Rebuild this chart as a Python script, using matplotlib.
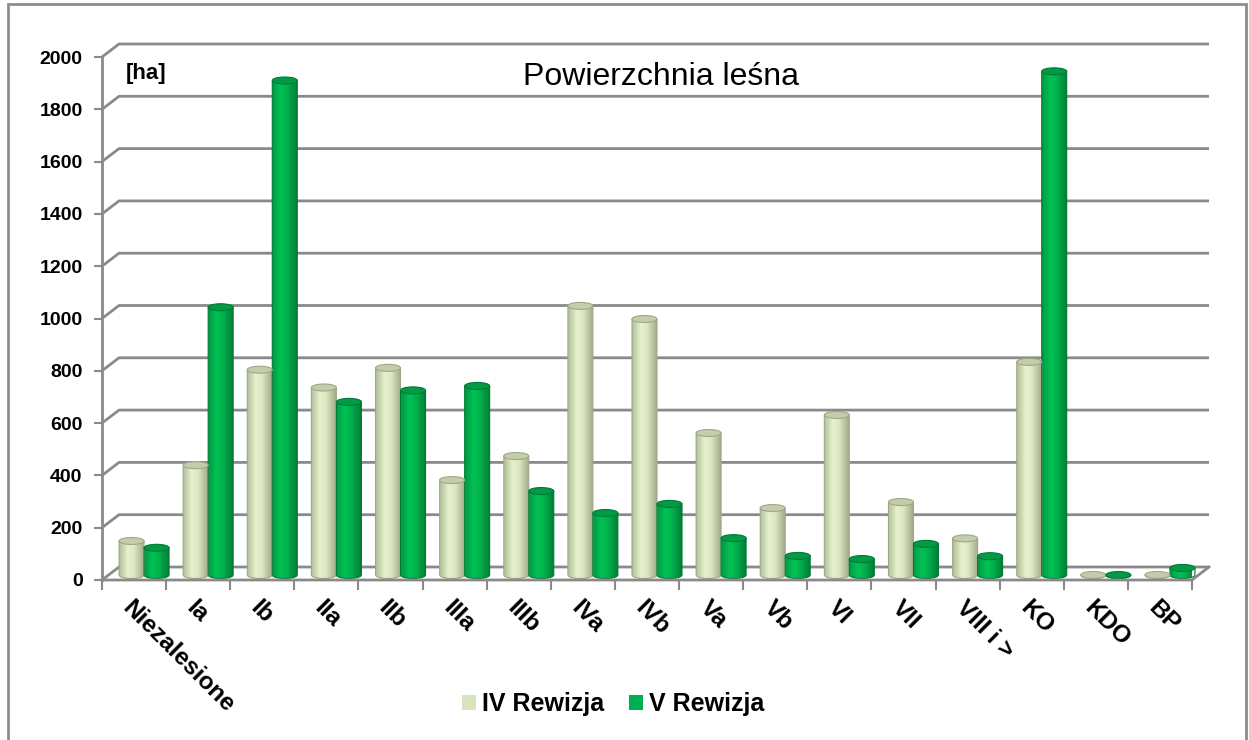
import numpy as np
import matplotlib
matplotlib.use('Agg')
import matplotlib.pyplot as plt
import matplotlib.transforms as mtransforms
from matplotlib.colors import LinearSegmentedColormap
from matplotlib.patches import Ellipse, PathPatch, Patch, Rectangle
from matplotlib.path import Path

plt.rcParams['font.family'] = ['Liberation Sans', 'DejaVu Sans']

# dane [ha]
categories = ['Niezalesione', 'Ia', 'Ib', 'IIa', 'IIb', 'IIIa', 'IIIb', 'IVa', 'IVb',
              'Va', 'Vb', 'VI', 'VII', 'VIII i >', 'KO', 'KDO', 'BP']
rewizja_iv = [130, 420, 785, 717, 792, 363, 455, 1029, 979, 543, 256, 612, 279, 140, 815, 0, 0]
rewizja_v = [104, 1024, 1891, 662, 706, 723, 321, 237, 272, 141, 73, 61, 119, 72, 1926, 0, 27]
series_names = ['IV Rewizja', 'V Rewizja']
y_ticks = np.arange(0, 2001, 200)

W, H = 1249, 740
fig = plt.figure(figsize=(W / 100, H / 100), dpi=100)
ax = fig.add_axes([102 / W, 1 - 580 / H, 1090 / W, 523 / H])
n = len(categories)
ymax = 2000

grid_c = '#8a8a8a'
ppx = 1090 / n        # piksele na kategorie
ppy = 523 / ymax      # piksele na jednostke
depth_dx, depth_dy = 17 / ppx, 13 / ppy

# sciana tylna + linie siatki (efekt 3D)
for v in y_ticks:
    ax.plot([-0.5, -0.5 + depth_dx, n - 0.5 + depth_dx], [v, v + depth_dy, v + depth_dy],
            color=grid_c, lw=2, clip_on=False, zorder=1, solid_capstyle='butt')
# przednia krawedz podlogi
ax.plot([-0.5, n - 0.5, n - 0.5 + depth_dx], [0, 0, depth_dy],
        color=grid_c, lw=2, clip_on=False, zorder=4)
ax.plot([-0.5, -0.5], [0, ymax], color=grid_c, lw=2, clip_on=False, zorder=4)

# walce
bar_trans = ax.transData + mtransforms.ScaledTranslation(10 / 100, 5 / 100, fig.dpi_scale_trans)
w = 25 / ppx
cap_h = 7 / ppy
grad = np.linspace(0, 1, 64).reshape(1, -1)

cmap_iv = LinearSegmentedColormap.from_list('iv', [(0, '#b4be99'), (0.35, '#e6f1cd'),
                                                   (0.6, '#dde9c3'), (1, '#a3ad89')])
cmap_v = LinearSegmentedColormap.from_list('v', [(0, '#009a43'), (0.35, '#00c255'),
                                                 (0.6, '#00b24d'), (1, '#007e37')])
styles = [(cmap_iv, '#c4cdaa', '#9ea889'), (cmap_v, '#009b44', '#007a35')]


def draw_cylinder(xc, val, cmap, cap_face, edge):
    x0, x1 = xc - w / 2, xc + w / 2
    t = np.linspace(np.pi, 2 * np.pi, 30)
    arc = list(zip(xc + w / 2 * np.cos(t), cap_h / 2 * np.sin(t)))
    verts = [(x0, val)] + arc + [(x1, val), (x0, val)]
    codes = [Path.MOVETO] + [Path.LINETO] * (len(verts) - 2) + [Path.CLOSEPOLY]
    body = PathPatch(Path(verts, codes), facecolor='none', edgecolor=edge, lw=0.8,
                     transform=bar_trans, zorder=3, clip_on=False)
    ax.add_patch(body)
    im = ax.imshow(grad, cmap=cmap, aspect='auto', extent=[x0, x1, -cap_h / 2, val],
                   transform=bar_trans, zorder=2.9, interpolation='bilinear')
    im.set_clip_path(body)
    ax.add_patch(Ellipse((xc, val), w, cap_h, facecolor=cap_face, edgecolor=edge, lw=0.8,
                         transform=bar_trans, zorder=3.1, clip_on=False))


for i in range(n):
    for k, vals in enumerate([rewizja_iv, rewizja_v]):
        xc = i - w / 2 + k * w
        draw_cylinder(xc, vals[i], *styles[k])

ax.set_xlim(-0.5, n - 0.5)
ax.set_ylim(0, ymax)
ax.set_aspect('auto')
ax.patch.set_visible(False)
for s in ax.spines.values():
    s.set_visible(False)

ax.set_yticks(y_ticks)
ax.set_yticklabels([str(v) for v in y_ticks], fontweight='bold')
ax.tick_params(axis='y', length=6, width=1.5, color=grid_c, pad=8, labelsize=14)

ax.set_xticks(np.arange(n + 1) - 0.5, labels=[''] * (n + 1))
ax.set_xticks(np.arange(n), minor=True)
ax.set_xticklabels(categories, minor=True, rotation=-45, ha='left', va='top',
                   rotation_mode='anchor', fontweight='bold', fontsize=17.5)
ax.tick_params(axis='x', which='major', length=7, width=1.5, color=grid_c)
ax.tick_params(axis='x', which='minor', length=0, pad=12)

fig.text(661 / W, 1 - 85 / H, 'Powierzchnia leśna', ha='center', va='baseline', fontsize=23)
fig.text(126 / W, 1 - 79 / H, '[ha]', ha='left', va='baseline', fontsize=16, fontweight='bold')

handles = [Patch(facecolor='#d7e4bd', edgecolor='none', label=series_names[0]),
           Patch(facecolor='#00b050', edgecolor='none', label=series_names[1])]
fig.legend(handles=handles, loc='center', bbox_to_anchor=(613 / W, 1 - 704 / H), ncol=2,
           frameon=False, prop={'weight': 'bold', 'size': 18}, handlelength=0.55,
           handleheight=0.55, handletextpad=0.25, columnspacing=1.0)

fig.add_artist(Rectangle((8 / W, -0.02), (1246 - 8) / W, 1.02 - 4 / H, transform=fig.transFigure,
                         fill=False, edgecolor='#8c8c8c', lw=2))

fig.savefig('out.png', dpi=100)
